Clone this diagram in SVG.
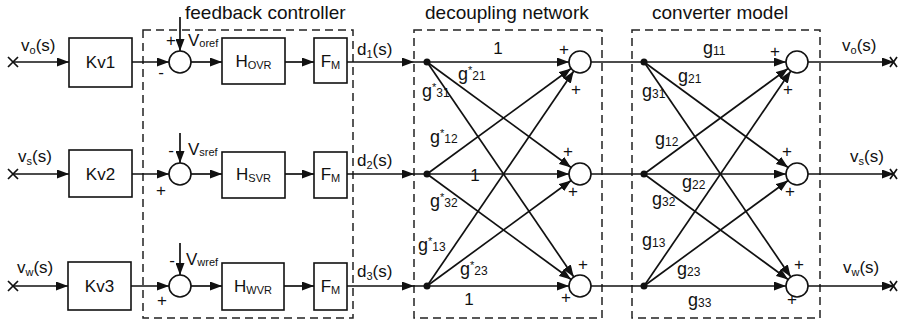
<svg xmlns="http://www.w3.org/2000/svg" width="899" height="328" viewBox="0 0 899 328">
<style>
text{font-family:"Liberation Sans",Arial,sans-serif;fill:#111}
.t{font-size:19px}
.l{font-size:17px}
.s{font-size:11px}
.g{font-size:18px}
.sub{font-size:12px}
.p{font-size:17px;text-anchor:middle}
.box{fill:#fff;stroke:#111;stroke-width:1.6}
.ln{stroke:#111;stroke-width:1.7;fill:none}
.ar{stroke:#111;stroke-width:1.7;fill:none;marker-end:url(#ah)}
.dash{fill:none;stroke:#222;stroke-width:1.5;stroke-dasharray:8 5}
.sum{fill:#fff;stroke:#111;stroke-width:1.6}
</style>
<defs>
<marker id="ah" markerUnits="userSpaceOnUse" markerWidth="12" markerHeight="9" refX="12" refY="4.5" orient="auto">
<path d="M0,0 L12,4.5 L0,9 Z" fill="#111"/>
</marker>
</defs>

<!-- containers -->
<g id="decoupling-network">
<rect x="414" y="30" width="188" height="288" fill="#d4d4d4" class="dash"/>
<text class="t" x="425" y="19">decoupling network</text>
</g>
<g id="feedback-controller">
<rect x="143" y="30" width="210" height="288" class="dash"/>
<text class="t" x="185" y="19">feedback controller</text>
</g>
<g id="converter-model">
<rect x="632" y="30" width="188" height="288" class="dash"/>
<text class="t" x="652" y="19">converter model</text>
</g>

<!-- connectors -->
<g id="connectors">
<path class="ar" d="M13,62 H69"/>
<path class="ar" d="M13,174 H69"/>
<path class="ar" d="M13,286 H68"/>
<path class="ln" d="M8,57 L18,67 M8,67 L18,57"/>
<path class="ln" d="M8,169 L18,179 M8,179 L18,169"/>
<path class="ln" d="M8,281 L18,291 M8,291 L18,281"/>
<path class="ar" d="M132,62 H169"/>
<path class="ar" d="M132,174 H169"/>
<path class="ar" d="M131,286 H169"/>
<path class="ar" d="M180,17 V51"/>
<path class="ar" d="M180,133 V163"/>
<path class="ar" d="M180,243 V275"/>
<path class="ar" d="M191,62 H222"/>
<path class="ar" d="M191,174 H222"/>
<path class="ar" d="M191,286 H222"/>
<path class="ar" d="M285,62 H314"/>
<path class="ar" d="M285,174 H314"/>
<path class="ar" d="M284,286 H314"/>
<path class="ar" d="M347,62 H414"/>
<path class="ar" d="M347,174 H414"/>
<path class="ar" d="M347,286 H414"/>
<path class="ar" d="M414,62 H569"/>
<path class="ar" d="M414,174 H569"/>
<path class="ar" d="M414,286 H569"/>
<path class="ar" d="M427,62 L571.1,167.5"/>
<path class="ar" d="M427,62 L573.8,276.9"/>
<path class="ar" d="M427,174 L571.1,68.5"/>
<path class="ar" d="M427,174 L571.1,279.5"/>
<path class="ar" d="M427,286 L573.8,71.1"/>
<path class="ar" d="M427,286 L571.1,180.5"/>
<path class="ln" d="M591,62 H644"/>
<path class="ln" d="M591,174 H644"/>
<path class="ln" d="M591,286 H644"/>
<path class="ar" d="M644,62 H786"/>
<path class="ar" d="M644,174 H786"/>
<path class="ar" d="M644,286 H786"/>
<path class="ar" d="M644,62 L788.1,167.5"/>
<path class="ar" d="M644,62 L790.8,276.9"/>
<path class="ar" d="M644,174 L788.1,68.5"/>
<path class="ar" d="M644,174 L788.1,279.5"/>
<path class="ar" d="M644,286 L790.8,71.1"/>
<path class="ar" d="M644,286 L788.1,180.5"/>
<path class="ar" d="M808,62 H894"/>
<path class="ar" d="M808,174 H894"/>
<path class="ar" d="M808,286 H894"/>
<path class="ln" d="M890,57 L897,67 M890,67 L897,57"/>
<path class="ln" d="M890,169 L897,179 M890,179 L897,169"/>
<path class="ln" d="M890,281 L897,291 M890,291 L897,281"/>
<circle cx="427" cy="62" r="3.5" fill="#111"/>
<circle cx="427" cy="174" r="3.5" fill="#111"/>
<circle cx="427" cy="286" r="3.5" fill="#111"/>
<circle cx="644" cy="62" r="3.5" fill="#111"/>
<circle cx="644" cy="174" r="3.5" fill="#111"/>
<circle cx="644" cy="286" r="3.5" fill="#111"/>
</g>

<g id="inputs">
<text class="l" x="21" y="51">v<tspan class="s" dy="3">o</tspan><tspan dy="-3">(s)</tspan></text>
<text class="l" x="18" y="162">v<tspan class="s" dy="3">s</tspan><tspan dy="-3">(s)</tspan></text>
<text class="l" x="17" y="273">v<tspan class="s" dy="3">w</tspan><tspan dy="-3">(s)</tspan></text>
</g>

<g id="kv1"><rect class="box" x="69" y="38" width="63" height="49"/><text class="l" x="100.5" y="68" text-anchor="middle">Kv1</text></g>
<g id="kv2"><rect class="box" x="69" y="150" width="63" height="47"/><text class="l" x="100.5" y="180" text-anchor="middle">Kv2</text></g>
<g id="kv3"><rect class="box" x="68" y="262" width="63" height="48"/><text class="l" x="99.5" y="292" text-anchor="middle">Kv3</text></g>

<g id="sum1"><circle class="sum" cx="180" cy="62" r="11"/>
<text class="p" x="171" y="46">+</text><text class="p" x="161" y="78">-</text>
<text class="l" x="188" y="46">V<tspan class="s" dy="1">oref</tspan></text></g>
<g id="sum2"><circle class="sum" cx="180" cy="174" r="11"/>
<text class="p" x="171" y="156">-</text><text class="p" x="161" y="196">+</text>
<text class="l" x="188" y="155">V<tspan class="s" dy="1">sref</tspan></text></g>
<g id="sum3"><circle class="sum" cx="180" cy="286" r="11"/>
<text class="p" x="172" y="266">-</text><text class="p" x="162" y="306">+</text>
<text class="l" x="186" y="265">V<tspan class="s" dy="1">wref</tspan></text></g>

<g id="hovr"><rect class="box" x="222" y="38" width="63" height="46"/><text class="l" x="253.5" y="67" text-anchor="middle">H<tspan class="s" dy="2">OVR</tspan></text></g>
<g id="hsvr"><rect class="box" x="222" y="152" width="63" height="46"/><text class="l" x="253.5" y="180" text-anchor="middle">H<tspan class="s" dy="2">SVR</tspan></text></g>
<g id="hwvr"><rect class="box" x="222" y="263" width="62" height="47"/><text class="l" x="253" y="292" text-anchor="middle">H<tspan class="s" dy="2">WVR</tspan></text></g>

<g id="fm1"><rect class="box" x="314" y="38" width="33" height="45"/><text class="l" x="330.5" y="67" text-anchor="middle">F<tspan class="s" dy="2">M</tspan></text></g>
<g id="fm2"><rect class="box" x="314" y="152" width="33" height="46"/><text class="l" x="330.5" y="180" text-anchor="middle">F<tspan class="s" dy="2">M</tspan></text></g>
<g id="fm3"><rect class="box" x="314" y="263" width="33" height="47"/><text class="l" x="330.5" y="292" text-anchor="middle">F<tspan class="s" dy="2">M</tspan></text></g>

<g id="d-labels">
<text class="l" x="357" y="55">d<tspan class="s" dy="3">1</tspan><tspan dy="-3">(s)</tspan></text>
<text class="l" x="357" y="166">d<tspan class="s" dy="3">2</tspan><tspan dy="-3">(s)</tspan></text>
<text class="l" x="357" y="277">d<tspan class="s" dy="3">3</tspan><tspan dy="-3">(s)</tspan></text>
</g>

<g id="decoupling-labels">
<text class="l" x="498" y="54" text-anchor="middle">1</text>
<text class="l" x="475" y="181" text-anchor="middle">1</text>
<text class="l" x="469" y="305" text-anchor="middle">1</text>
<text class="g" x="458" y="80">g<tspan class="s" dy="-6">*</tspan><tspan class="sub" dy="6">21</tspan></text>
<text class="g" x="422" y="97">g<tspan class="s" dy="-6">*</tspan><tspan class="sub" dy="6">31</tspan></text>
<text class="g" x="430" y="143">g<tspan class="s" dy="-6">*</tspan><tspan class="sub" dy="6">12</tspan></text>
<text class="g" x="430" y="207">g<tspan class="s" dy="-6">*</tspan><tspan class="sub" dy="6">32</tspan></text>
<text class="g" x="418" y="251">g<tspan class="s" dy="-6">*</tspan><tspan class="sub" dy="6">13</tspan></text>
<text class="g" x="460" y="275">g<tspan class="s" dy="-6">*</tspan><tspan class="sub" dy="6">23</tspan></text>
</g>

<g id="dsum1"><circle class="sum" cx="580" cy="62" r="11"/><text class="p" x="564" y="55">+</text><text class="p" x="576" y="95">+</text></g>
<g id="dsum2"><circle class="sum" cx="580" cy="174" r="11"/><text class="p" x="568" y="157">+</text><text class="p" x="573" y="197">+</text></g>
<g id="dsum3"><circle class="sum" cx="580" cy="286" r="11"/><text class="p" x="583" y="270">+</text><text class="p" x="566" y="303">+</text></g>

<g id="converter-labels">
<text class="g" x="703" y="54">g<tspan class="sub" dy="1">11</tspan></text>
<text class="g" x="678" y="82">g<tspan class="sub" dy="1">21</tspan></text>
<text class="g" x="642" y="97">g<tspan class="sub" dy="1">31</tspan></text>
<text class="g" x="655" y="145">g<tspan class="sub" dy="1">12</tspan></text>
<text class="g" x="682" y="188">g<tspan class="sub" dy="1">22</tspan></text>
<text class="g" x="652" y="205">g<tspan class="sub" dy="1">32</tspan></text>
<text class="g" x="642" y="246">g<tspan class="sub" dy="1">13</tspan></text>
<text class="g" x="677" y="275">g<tspan class="sub" dy="1">23</tspan></text>
<text class="g" x="688" y="306">g<tspan class="sub" dy="1">33</tspan></text>
</g>

<g id="csum1"><circle class="sum" cx="797" cy="62" r="11"/><text class="p" x="775" y="57">+</text><text class="p" x="788" y="95">+</text></g>
<g id="csum2"><circle class="sum" cx="797" cy="174" r="11"/><text class="p" x="787" y="157">+</text><text class="p" x="790" y="197">+</text></g>
<g id="csum3"><circle class="sum" cx="797" cy="286" r="11"/><text class="p" x="799" y="270">+</text><text class="p" x="792" y="305">+</text></g>

<g id="outputs">
<text class="l" x="842" y="51">v<tspan class="s" dy="3">o</tspan><tspan dy="-3">(s)</tspan></text>
<text class="l" x="850" y="162">v<tspan class="s" dy="3">s</tspan><tspan dy="-3">(s)</tspan></text>
<text class="l" x="843" y="273">v<tspan class="s" dy="3">w</tspan><tspan dy="-3">(s)</tspan></text>
</g>
</svg>
